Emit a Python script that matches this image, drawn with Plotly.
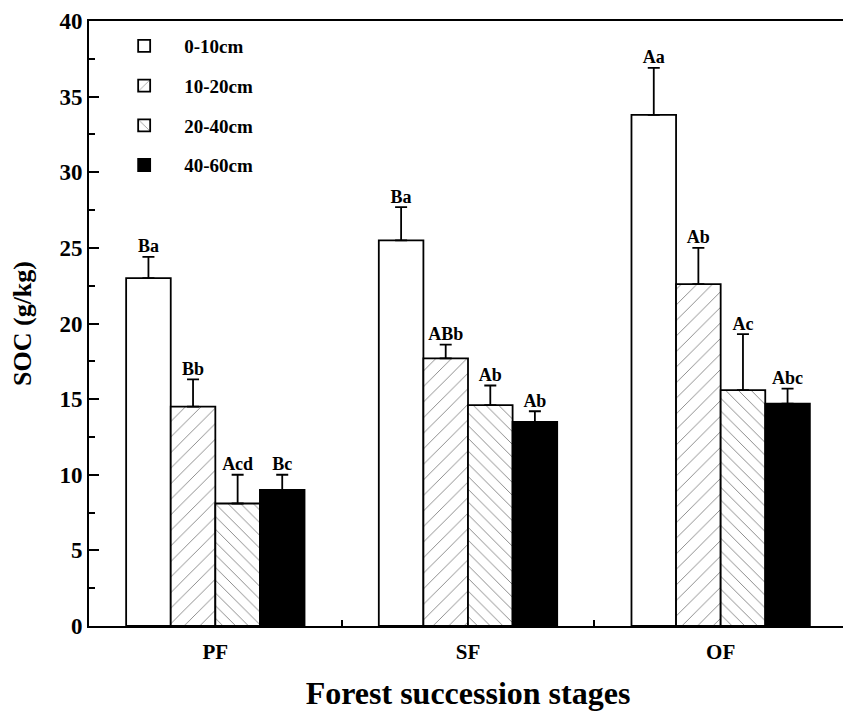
import plotly.graph_objects as go

stages = ["PF", "SF", "OF"]
depths = ["0-10cm", "10-20cm", "20-40cm", "40-60cm"]

# mean SOC (g/kg) per depth, one value per stage
soc_0_10 = [23.0, 25.5, 33.8]
soc_10_20 = [14.5, 17.7, 22.6]
soc_20_40 = [8.1, 14.6, 15.6]
soc_40_60 = [9.0, 13.5, 14.7]

# upper error (SD)
err_0_10 = [1.4, 2.2, 3.1]
err_10_20 = [1.8, 0.9, 2.4]
err_20_40 = [1.9, 1.3, 3.7]
err_40_60 = [1.0, 0.7, 1.0]

# significance letters
sig_0_10 = ["Ba", "Ba", "Aa"]
sig_10_20 = ["Bb", "ABb", "Ab"]
sig_20_40 = ["Acd", "Ab", "Ac"]
sig_40_60 = ["Bc", "Ab", "Abc"]

means = [soc_0_10, soc_10_20, soc_20_40, soc_40_60]
errs = [err_0_10, err_10_20, err_20_40, err_40_60]
sigs = [sig_0_10, sig_10_20, sig_20_40, sig_40_60]

styles = [
    dict(color="white", pattern=dict(shape="")),
    dict(color="white", pattern=dict(shape="/", fgcolor="black", size=11, solidity=0.08)),
    dict(color="white", pattern=dict(shape="\\", fgcolor="black", size=9, solidity=0.1)),
    dict(color="black", pattern=dict(shape="")),
]

FONT = "Liberation Serif"

fig = go.Figure()
for i, d in enumerate(depths):
    fig.add_trace(go.Bar(
        x=stages, y=means[i], name=d, offsetgroup=str(i), legendgroup=str(i),
        marker=dict(color=styles[i]["color"], pattern=styles[i]["pattern"],
                    line=dict(color="black", width=1.8)),
        error_y=dict(type="data", array=errs[i], arrayminus=[0] * 3, symmetric=False,
                     color="black", thickness=1.8, width=6),
    ))

# letters above the error bars
for i, d in enumerate(depths):
    tops = [m + e for m, e in zip(means[i], errs[i])]
    fig.add_trace(go.Scatter(
        x=stages, y=tops, mode="text", text=sigs[i], textposition="top center",
        offsetgroup=str(i), showlegend=False, hoverinfo="skip",
        textfont=dict(family=FONT, size=18, color="black", weight="bold"),
    ))

# page body has an 8px margin, so the figure is sized to fit inside the window
fig.update_layout(
    width=843, height=703,
    margin=dict(l=81, r=4, t=13, b=85),
    barmode="group", bargap=0.294, bargroupgap=0,
    scattermode="group", scattergap=0.294,
    plot_bgcolor="white", paper_bgcolor="white",
    font=dict(family=FONT, color="black"),
    legend=dict(x=0.02, y=0.99, xanchor="left", yanchor="top",
                font=dict(family=FONT, size=19, color="black", weight="bold"),
                tracegroupgap=12, itemwidth=70, bgcolor="rgba(0,0,0,0)"),
    xaxis=dict(
        range=[-0.5, 2.5], showline=True, linecolor="black", linewidth=2, mirror=True,
        ticks="inside", tickson="boundaries", ticklen=6, tickwidth=2, tickcolor="black",
        tickfont=dict(family=FONT, size=21, weight="bold"), automargin=False,
        ticklabelstandoff=6,
        title=dict(text="Forest succession stages", standoff=28,
                   font=dict(family=FONT, size=32, weight="bold")),
    ),
    yaxis=dict(
        range=[0, 40], dtick=5, showline=True, linecolor="black", linewidth=2, mirror=True,
        ticks="inside", ticklen=10, tickwidth=2, tickcolor="black", showgrid=False,
        zeroline=False, automargin=False, ticklabeloverflow="allow",
        minor=dict(dtick=2.5, ticks="inside", ticklen=6, tickwidth=2, tickcolor="black"),
        tickfont=dict(family=FONT, size=23, weight="bold"),
        title=dict(text="SOC (g/kg)", standoff=22,
                   font=dict(family=FONT, size=26, weight="bold")),
    ),
)

fig.write_html("out.html")
